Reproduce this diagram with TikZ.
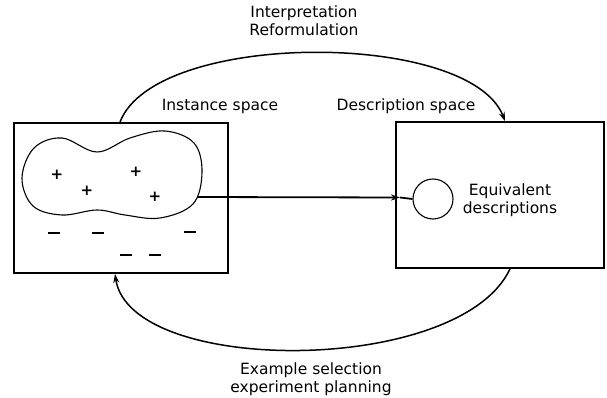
\documentclass[tikz,border=0pt]{standalone}
\usepackage{fontspec}
\setmainfont{DejaVu Sans}
\usetikzlibrary{arrows.meta}
\tikzset{
  box/.style={draw, line width=1.8pt, inner sep=0pt},
  curve/.style={line width=1.5pt},
  arr/.style={-{Stealth[length=9pt,width=6pt,inset=3pt]}},
  lbl/.style={font=\fontsize{15.5}{18}\selectfont, align=center, inner sep=0pt},
  plus/.style={font=\bfseries\fontsize{15}{16}\selectfont, inner sep=0pt},
  minus/.style={inner sep=0pt}
}
\newcommand{\mydash}{\rule{12pt}{1.8pt}}
\begin{document}
\begin{tikzpicture}[x=1pt,y=-1pt]
\useasboundingbox (0,0) rectangle (607,398);
% boxes
\node[box, minimum width=214pt, minimum height=150pt] (inst) at (121,198) {};
\node[box, minimum width=208pt, minimum height=146pt] (desc) at (500,195) {};
% blob
\draw[line width=1.1pt] plot[smooth cycle, tension=0.6] coordinates {
  (22,178) (34,148) (62,138) (97,152) (130,138) (165,131) (194,143) (202,172)
  (193,204) (160,218) (125,215) (97,210) (62,215) (33,206)};
\coordinate (blobR) at (197,197);
% signs
\node[plus] (p1) at (57,175) {+};
\node[plus] (p2) at (87,191) {+};
\node[plus] (p3) at (136,172) {+};
\node[plus] (p4) at (155,197) {+};
\node[minus] (m1) at (54,233) {\mydash};
\node[minus] (m2) at (98,233) {\mydash};
\node[minus] (m3) at (190,232) {\mydash};
\node[minus] (m4) at (126,255) {\mydash};
\node[minus] (m5) at (155,255) {\mydash};
% circle
\node[draw, circle, line width=1.1pt, minimum size=40pt, inner sep=0pt] (eq) at (433,199) {};
\node[lbl] (eqt) at (510,200) {Equivalent\\descriptions};
% straight arrow
\coordinate (tip) at (400,197.5);
\draw[line width=1.8pt, arr] (blobR) -- (tip);
\draw[line width=1.8pt] (tip) -- (eq.west);
% arcs
\draw[curve, arr] ([xshift=-1pt]inst.north) .. controls (155,30) and (470,30) .. ([xshift=5pt]desc.north);
\draw[curve, arr] ([xshift=10pt]desc.south) .. controls (460,376) and (130,376) .. ([xshift=-6pt]inst.south);
% labels
\node[lbl, anchor=base] (top) at (304,36) {Interpretation\\Reformulation};
\node[lbl, anchor=base] (il) at (220,111) {Instance space};
\node[lbl, anchor=base] (dl) at (406,111) {Description space};
\node[lbl, anchor=base] (bot) at (311,392) {Example selection\\experiment planning};
\end{tikzpicture}
\end{document}
